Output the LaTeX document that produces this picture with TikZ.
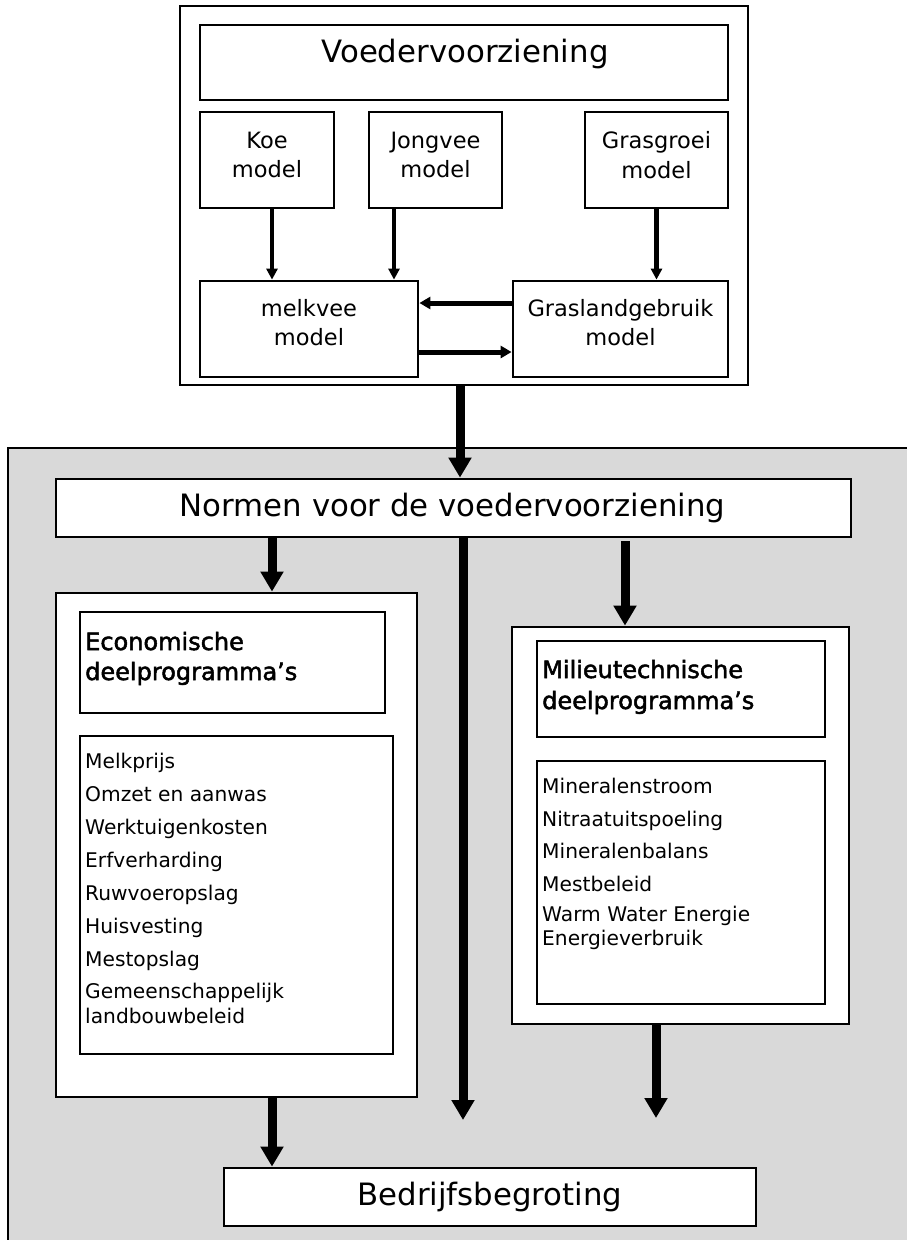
\documentclass[tikz,border=0pt]{standalone}
\usepackage{fontspec}
\setmainfont{DejaVu Sans}
\newfontfamily\tbold[FakeBold=2]{DejaVu Sans}
\usetikzlibrary{arrows.meta}
\definecolor{bggray}{RGB}{217,217,217}
\tikzset{
  box/.style={draw=black, line width=2.8pt, fill=white, inner sep=0pt},
  txt/.style={anchor=base, inner sep=0pt},
  ltxt/.style={anchor=base west, inner sep=0pt, font=\fontsize{20.2}{24}\selectfont},
  ttxt/.style={anchor=base west, inner sep=0pt, font=\tbold\fontsize{24}{28}\selectfont},
  bigf/.style={font=\fontsize{30.8}{36}\selectfont},
  midf/.style={font=\fontsize{22.5}{27}\selectfont},
  thinarrow/.style={line width=4.5pt, -{Triangle[width=11pt,length=11pt]}},
  medarrow/.style={line width=5pt, -{Triangle[width=12pt,length=11pt]}},
  bigarrow/.style={line width=9pt, -{Triangle[width=22pt,length=20pt]}}
}
\begin{document}
\begin{tikzpicture}[x=1pt,y=-1pt]
\useasboundingbox (0,0) rectangle (907,1240);
% top container
\node[box, minimum width=568pt, minimum height=379pt] (topouter) at (464,195.5) {};
\node[box, minimum width=528pt, minimum height=75pt] (voeder) at (464,62.5) {};
\node[txt, bigf] (tvoeder) at (465,62) {Voedervoorziening};
\node[box, minimum width=134pt, minimum height=96pt] (koe) at (267,160) {};
\node[txt, midf] (tkoe1) at (267,148) {Koe};
\node[txt, midf] (tkoe2) at (267,177) {model};
\node[box, minimum width=133pt, minimum height=96pt] (jong) at (435.5,160) {};
\node[txt, midf] (tjong1) at (435.5,148) {Jongvee};
\node[txt, midf] (tjong2) at (435.5,177) {model};
\node[box, minimum width=143pt, minimum height=96pt] (gras) at (656.5,160) {};
\node[txt, midf] (tgras1) at (656.5,148) {Grasgroei};
\node[txt, midf] (tgras2) at (656.5,178) {model};
\node[box, minimum width=218pt, minimum height=96pt] (melk) at (309,329) {};
\node[txt, midf] (tmelk1) at (309,316) {melkvee};
\node[txt, midf] (tmelk2) at (309,345) {model};
\node[box, minimum width=215pt, minimum height=96pt] (grasl) at (620.5,329) {};
\node[txt, midf] (tgrasl1) at (620.5,316) {Graslandgebruik};
\node[txt, midf] (tgrasl2) at (620.5,345) {model};
\draw[thinarrow] ([xshift=5pt]koe.south) -- ([xshift=5pt]koe.south |- melk.north);
\draw[thinarrow] ([xshift=-41.5pt]jong.south) -- ([xshift=-41.5pt]jong.south |- melk.north);
\draw[thinarrow] (gras.south) -- (gras.south |- grasl.north);
\draw[medarrow] ([yshift=26pt]grasl.west) -- ([yshift=26pt]grasl.west -| melk.east);
\draw[medarrow] ([yshift=-23pt]melk.east) -- ([yshift=-23pt]melk.east -| grasl.west);
% gray container
\node[draw=black, line width=2.8pt, fill=bggray, inner sep=0pt, minimum width=922pt, minimum height=812pt] (graybox) at (469,854) {};
\node[box, minimum width=795pt, minimum height=58pt] (normen) at (453.5,508) {};
\node[txt, bigf] (tnormen) at (452.5,516) {Normen voor de voedervoorziening};
\draw[bigarrow] ([xshift=-4pt]topouter.south) -- ([xshift=-4pt]topouter.south |- normen.north);
% economic
\node[box, minimum width=361pt, minimum height=504pt] (econ) at (236.5,845) {};
\node[box, minimum width=305pt, minimum height=101pt] (econt) at (232.5,662.5) {};
\node[ttxt] (tecon1) at (85,650) {Economische};
\node[ttxt] (tecon2) at (85,680) {deelprogramma’s};
\node[box, minimum width=313pt, minimum height=318pt] (econl) at (236.5,895) {};
\node[ltxt] (e1) at (85,768) {Melkprijs};
\node[ltxt] (e2) at (85,801) {Omzet en aanwas};
\node[ltxt] (e3) at (85,834) {Werktuigenkosten};
\node[ltxt] (e4) at (85,867) {Erfverharding};
\node[ltxt] (e5) at (85,900) {Ruwvoeropslag};
\node[ltxt] (e6) at (85,933) {Huisvesting};
\node[ltxt] (e7) at (85,966) {Mestopslag};
\node[ltxt] (e8) at (85,998) {Gemeenschappelijk};
\node[ltxt] (e9) at (85,1023) {landbouwbeleid};
% environmental
\node[box, minimum width=337pt, minimum height=397pt] (mil) at (680.5,825.5) {};
\node[box, minimum width=288pt, minimum height=96pt] (milt) at (681,689) {};
\node[ttxt] (tmil1) at (542,678) {Milieutechnische};
\node[ttxt] (tmil2) at (542,709) {deelprogramma’s};
\node[box, minimum width=288pt, minimum height=243pt] (mill) at (681,882.5) {};
\node[ltxt] (m1) at (542,793) {Mineralenstroom};
\node[ltxt] (m2) at (542,826) {Nitraatuitspoeling};
\node[ltxt] (m3) at (542,858) {Mineralenbalans};
\node[ltxt] (m4) at (542,891) {Mestbeleid};
\node[ltxt] (m5) at (542,921) {Warm Water Energie};
\node[ltxt] (m6) at (542,945) {Energieverbruik};
% bottom
\node[box, minimum width=532pt, minimum height=58pt] (bedr) at (490,1197) {};
\node[txt, bigf] (tbedr) at (490,1205) {Bedrijfsbegroting};
\coordinate (midend) at (463,1120);
\coordinate (milend) at (656,1118);
\coordinate (ecol) at (272,0);
\coordinate (micol) at (625,0);
\draw[bigarrow] (normen.south -| ecol) -- (econ.north -| ecol);
\draw[bigarrow] (normen.south -| midend) -- (midend);
\draw[bigarrow] ([yshift=-3pt]normen.south -| micol) -- (mil.north -| micol);
\draw[bigarrow] (econ.south -| ecol) -- (bedr.north -| ecol);
\draw[bigarrow] (mil.south -| milend) -- (milend);
\end{tikzpicture}
\end{document}
